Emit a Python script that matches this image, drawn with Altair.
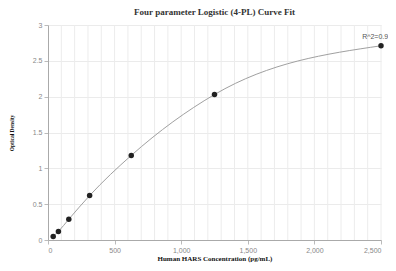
import altair as alt
import pandas as pd

conc = [39.06, 78.13, 156.25, 312.5, 625, 1250, 2500]
od = [0.05, 0.12, 0.29, 0.62, 1.18, 2.03, 2.71]
r2_label = ["R^2=0.9998"]
grid_x = list(range(100, 2501, 100))

df = pd.DataFrame({"conc": conc, "od": od})
lab = pd.DataFrame({"conc": [conc[-1]], "od": [od[-1]], "t": r2_label})
gdf = pd.DataFrame({"conc": grid_x})

xscale = alt.Scale(domain=[0, 2500], nice=False)
yscale = alt.Scale(domain=[0, 3], nice=False)

lab_font = "Liberation Sans"
title_font = "Liberation Serif"

xaxis = alt.Axis(values=[0, 500, 1000, 1500, 2000, 2500],
                 labelExpr="format(datum.value, ',')", grid=False,
                 title="Human HARS Concentration (pg/mL)", titleFont=title_font,
                 titleFontSize=7, titleFontWeight="bold", titleColor="#111",
                 labelFont=lab_font, labelFontSize=7, labelColor="#888",
                 tickColor="#bbb", domainColor="#aaa", tickSize=4, titlePadding=1)
yaxis = alt.Axis(values=[0, 0.5, 1, 1.5, 2, 2.5, 3], labelExpr="format(datum.value, '~g')",
                 grid=True, gridColor="#ebebeb",
                 title="Optical Density", titleFont=title_font, titleFontSize=5.5,
                 titleFontWeight="bold", titleColor="#111",
                 labelFont=lab_font, labelFontSize=7, labelColor="#888",
                 tickColor="#bbb", domainColor="#aaa", tickSize=4, titlePadding=18)

X = alt.X("conc:Q", scale=xscale, axis=xaxis, title="Human HARS Concentration (pg/mL)")
Y = alt.Y("od:Q", scale=yscale, axis=yaxis, title="Optical Density")

grid_layer = alt.Chart(gdf).mark_rule(color="#ececec", strokeWidth=1).encode(x=X)

line = alt.Chart(df).mark_line(color="#a0a0a0", strokeWidth=1, interpolate="monotone").encode(x=X, y=Y)

pts = alt.Chart(df).mark_circle(size=30, color="#222", opacity=1).encode(x=X, y=Y)

txt = alt.Chart(lab).mark_text(dy=-9, fontSize=7, font=lab_font, color="#555").encode(
    x=X, y=Y, text="t:N",
)

chart = alt.layer(grid_layer, line, pts, txt).properties(
    width=333, height=215,
    title=alt.TitleParams("Four parameter Logistic (4-PL) Curve Fit", font=title_font,
                          fontSize=9, fontWeight="bold", color="#333", offset=4),
    autosize=alt.AutoSizeParams(type="none"),
    padding={"left": 40, "top": 17, "right": 7, "bottom": 23},
).configure_view(stroke=None)

chart.save("out.html", embed_options={"renderer": "svg", "actions": False})
